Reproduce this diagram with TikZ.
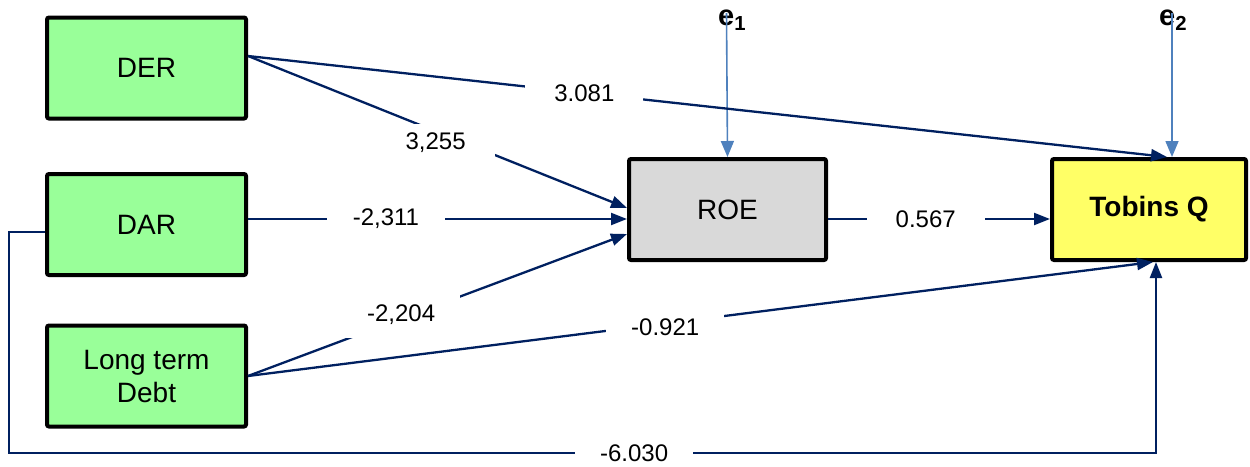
\documentclass[tikz,border=0pt]{standalone}
\usepackage{fontspec}
\setmainfont{Liberation Sans}
\usetikzlibrary{arrows.meta}
\definecolor{navy}{RGB}{0,32,96}
\definecolor{steel}{RGB}{79,129,189}
\definecolor{boxgreen}{RGB}{153,255,153}
\definecolor{boxgray}{RGB}{217,217,217}
\definecolor{boxyellow}{RGB}{255,255,102}
\begin{document}
\begin{tikzpicture}[x=1pt,y=-1pt,
  var/.style={draw=black, line width=4pt, rounded corners=2pt, minimum width=199pt,
    minimum height=101pt, inner sep=0pt, font=\fontsize{28}{33}\selectfont, align=center},
  link/.style={draw=navy, line width=2.3pt, -{Triangle[length=16pt,width=12pt]}},
  err/.style={draw=steel, line width=1.6pt, -{Triangle[length=16pt,width=13pt]}},
  coef/.style={fill=white, inner sep=0pt, minimum width=118pt, minimum height=38pt,
    font=\fontsize{24}{28}\selectfont},
  errlbl/.style={font=\bfseries\fontsize{29}{32}\selectfont, inner sep=0pt}
]
\useasboundingbox (0,0) rectangle (1250,466);

% variables
\node[var, fill=boxgreen] (DER) at (146.5,68) {DER};
\node[var, fill=boxgreen] (DAR) at (146.5,224.5) {DAR};
\node[var, fill=boxgreen] (LTD) at (146.5,376) {Long term\\Debt};
\node[var, fill=boxgray, minimum width=197pt] (ROE) at (727.5,209.5) {ROE};
\node[var, fill=boxyellow, minimum width=194pt,
  font=\bfseries\fontsize{28}{33}\selectfont] (TQ) at (1149,209.5) {Tobins Q};

% error terms
\node[errlbl, anchor=base west] (e1) at (718,25) {e\textsubscript{1}};
\node[errlbl, anchor=base west] (e2) at (1159,25) {e\textsubscript{2}};
\coordinate (e1top) at (726.5,13);
\coordinate (e2top) at (1172,13);
\draw[err] (e1top) -- (ROE.north);
\draw[err] (e2top) -- ([xshift=23pt]TQ.north);

% paths
\draw[link] ([yshift=12pt]DER.east) -- node[coef, pos=0.366] {3.081} ([xshift=18pt]TQ.north);
\draw[link] ([yshift=12pt]DER.east) -- node[coef, pos=0.495, yshift=-11.5pt] {3,255} ([yshift=1.5pt]ROE.west);
\draw[link] ([yshift=5.5pt]DAR.east) -- node[coef, pos=0.364] {-2,311} ([yshift=-9.5pt]ROE.west);
\draw[link] (LTD.east) -- node[coef, pos=0.404, yshift=4pt, minimum height=46pt] {-2,204} ([yshift=-24.5pt]ROE.west);
\draw[link] ([yshift=-9.5pt]ROE.east) -- node[coef, pos=0.44] {0.567} ([yshift=-9.5pt]TQ.west);
\draw[link] (LTD.east) -- node[coef, pos=0.461, yshift=-4pt] {-0.921} ([xshift=4pt]TQ.south);

\coordinate (cornerL) at (9,453);
\coordinate (tqin) at ([xshift=7pt]TQ.south);
\draw[link] ([yshift=-7.5pt]DAR.west) -| (cornerL) -| node[coef, pos=0.2725, minimum height=30pt] {-6.030} (tqin);
\end{tikzpicture}
\end{document}
